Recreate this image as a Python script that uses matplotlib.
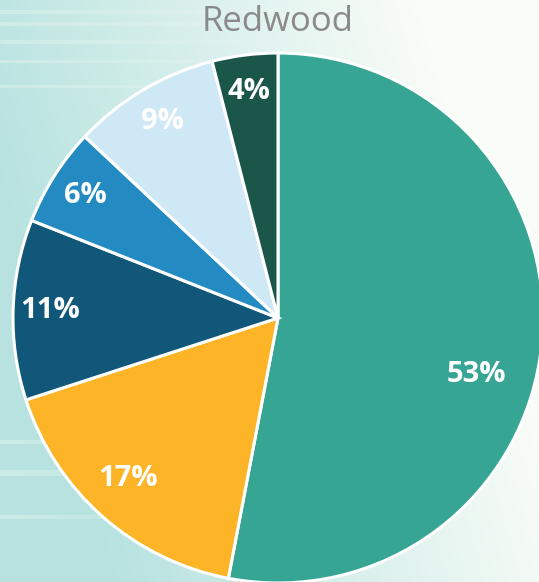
import numpy as np
import matplotlib.pyplot as plt

# Redwood composition
shares = [53, 17, 11, 6, 9, 4]
labels = ["53%", "17%", "11%", "6%", "9%", "4%"]
colors = ["#37A593", "#FDB426", "#11577A", "#238BC2", "#CFE8F6", "#1B564B"]
title = "Redwood"

W, H = 539, 582
fig = plt.figure(figsize=(W / 100, H / 100), dpi=100)

# soft teal-to-white background with a few light streaks
bg = fig.add_axes([0, 0, 1, 1])
xs = np.linspace(0, 1, W)
ys = np.linspace(0, 1, H)
gx, gy = np.meshgrid(xs, ys)
t = np.clip(1.15 * gx + 0.35 * (1 - gy) - 0.25, 0, 1)
teal = np.array([0.72, 0.89, 0.88])
white = np.array([0.98, 0.99, 0.97])
img = teal[None, None, :] * (1 - t[..., None]) + white[None, None, :] * t[..., None]
for r0, r1 in [(10, 14), (22, 26), (40, 44), (60, 63), (85, 88), (440, 444), (470, 476), (515, 519)]:
    fade = np.clip(1 - xs * 1.8, 0, 1)[None, :, None]
    img[r0:r1] = img[r0:r1] * (1 - 0.3 * fade) + white * 0.3 * fade
bg.imshow(img, aspect="auto", extent=(0, W, H, 0))
bg.axis("off")

ax = fig.add_axes([0, 0, 1, 1])
cx, cy, R = 278, H - 318, 265
wedges, texts, autotexts = ax.pie(
    shares, colors=colors, startangle=90, counterclock=False,
    center=(cx, cy), radius=R, autopct="%d%%", pctdistance=0.86,
    wedgeprops=dict(edgecolor="white", linewidth=2.2),
    textprops=dict(color="white", fontsize=21, fontweight="bold", family="Open Sans"),
)
for txt, lab in zip(autotexts, labels):
    txt.set_text(lab)
# the big slice label sits lower than its mid-angle
ang = np.deg2rad(-16)
autotexts[0].set_position((cx + 0.78 * R * np.cos(ang), cy + 0.78 * R * np.sin(ang)))
# the orange label sits a little closer to the centre
ang = np.deg2rad(-133)
autotexts[1].set_position((cx + 0.83 * R * np.cos(ang), cy + 0.83 * R * np.sin(ang)))

ax.set_xlim(0, W)
ax.set_ylim(0, H)
ax.set_aspect("auto")
ax.axis("off")

fig.text(278 / W, 1 - 22 / H, title, ha="center", va="center",
         fontsize=25, color="#8A8A8A", family="Open Sans")

fig.savefig("out.png", dpi=100)
